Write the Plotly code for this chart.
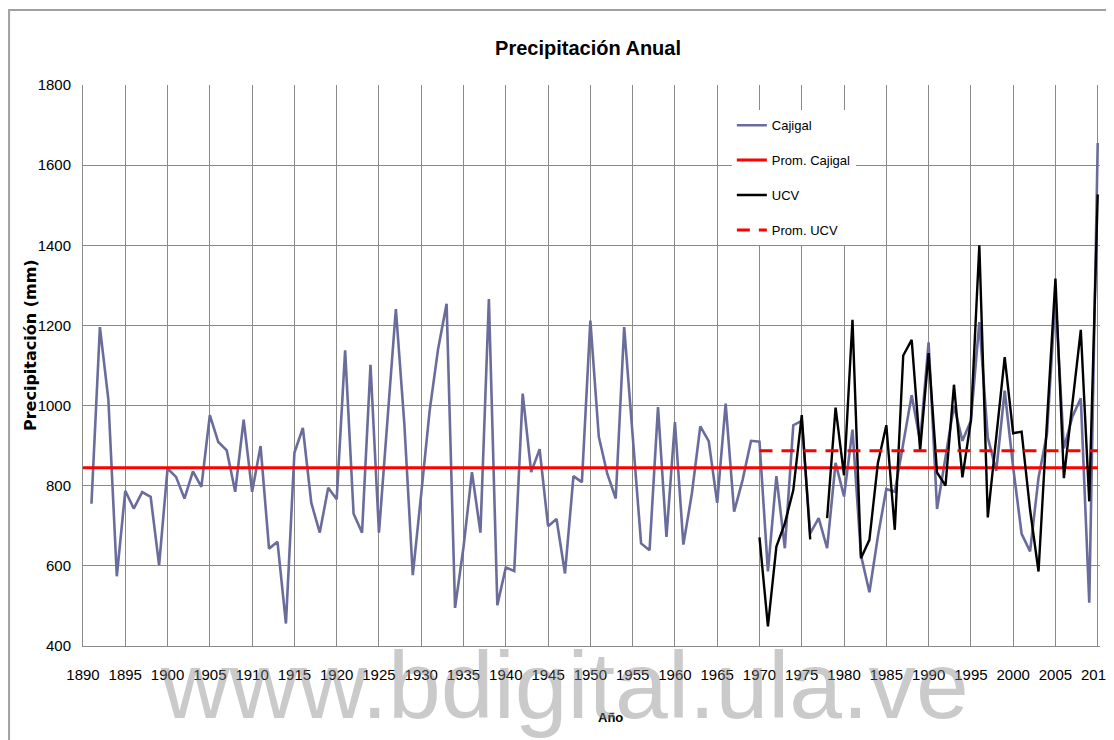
import plotly.graph_objects as go

# ---------------- data ----------------
years_cajigal = list(range(1891, 2011))
cajigal = [
    755, 1196, 1015, 574, 787, 743, 784, 772, 602, 843,      # 1891-1900
    822, 768, 836, 797, 976, 909, 888, 785, 965, 785,        # 1901-1910
    899, 643, 660, 456, 882, 944, 757, 683, 795, 766,        # 1911-1920
    1138, 730, 683, 1102, 683, 960, 1241, 955, 577, 780,     # 1921-1930
    988, 1142, 1254, 495, 647, 834, 683, 1266, 502, 596,     # 1931-1940
    587, 1030, 834, 891, 699, 717, 581, 824, 809, 1212,      # 1941-1950
    922, 830, 768, 1196, 922, 656, 639, 996, 672, 959,       # 1951-1960
    653, 780, 948, 911, 757, 1005, 735, 814, 912, 910,       # 1961-1970
    586, 824, 644, 951, 962, 681, 719, 644, 857, 773,        # 1971-1980
    940, 627, 534, 673, 792, 785, 905, 1026, 910, 1158,      # 1981-1990
    742, 870, 1000, 912, 962, 1208, 920, 837, 1037, 846,     # 1991-2000
    680, 636, 820, 930, 1270, 893, 972, 1018, 508, 1655,     # 2001-2010
]

years_ucv = list(range(1970, 2011))
ucv = [
    671, 449, 648, 706, 789, 976, 666, None, 719, 995,       # 1970-1979
    826, 1214, 619, 665, 856, 951, 690, 1125, 1164, 889,     # 1980-1989
    1131, 833, 800, 1052, 821, 962, 1400, 721, 921, 1121,    # 1990-1999
    931, 935, 740, 586, 960, 1317, 819, 1000, 1189, 761,     # 2000-2009
    1527,                                                    # 2010
]

prom_cajigal_years = [1890, 2010]
prom_cajigal = [845, 845]
prom_ucv_years = [1970, 2010]
prom_ucv = [887, 887]

x_ticks = list(range(1890, 2011, 5))
y_ticks = list(range(400, 1801, 200))

# ---------------- figure ----------------
FONT = "Liberation Sans Narrow, Arial Narrow, Liberation Sans, Arial, sans-serif"

fig = go.Figure()
fig.add_trace(go.Scatter(x=years_cajigal, y=cajigal, mode="lines", name="Cajigal",
                         legendgroup="a", line=dict(color="#6a6c9c", width=2.6)))
fig.add_trace(go.Scatter(x=prom_cajigal_years, y=prom_cajigal, mode="lines", name="Prom. Cajigal",
                         legendgroup="b", line=dict(color="#ff0000", width=3)))
fig.add_trace(go.Scatter(x=years_ucv, y=ucv, mode="lines", name="UCV",
                         legendgroup="c", line=dict(color="#000000", width=2.4),
                         connectgaps=False))
fig.add_trace(go.Scatter(x=prom_ucv_years, y=prom_ucv, mode="lines", name="Prom. UCV",
                         legendgroup="d", line=dict(color="#ff0000", width=3, dash="13px,9px")))

fig.update_layout(
    width=1106, height=732,
    margin=dict(l=75, r=0, t=77, b=94),
    paper_bgcolor="white", plot_bgcolor="white",
    title=dict(text="<b>Precipitación Anual</b>", x=0.4966, xref="paper",
               y=1 - 40 / 732, yref="container", xanchor="center", yanchor="middle",
               font=dict(family=FONT, size=20, color="black")),
    showlegend=True,
    legend=dict(x=0.638, y=0.955, xanchor="left", yanchor="top",
                bgcolor="white", borderwidth=0, traceorder="grouped",
                tracegroupgap=15,
                font=dict(family=FONT, size=13, color="black")),
    xaxis=dict(range=[1890, 2010.27], tickmode="array", tickvals=x_ticks,
               ticktext=[str(v) for v in x_ticks],
               showgrid=True, gridcolor="#8a8a8a", gridwidth=1,
               showline=True, linecolor="#8a8a8a", linewidth=1,
               ticks="", ticklabelstandoff=15, ticklabeloverflow="allow",
               zeroline=False,
               tickfont=dict(family=FONT, size=15, color="black")),
    yaxis=dict(range=[400, 1800], tickmode="array", tickvals=y_ticks,
               showgrid=True, gridcolor="#8a8a8a", gridwidth=1,
               showline=True, linecolor="#8a8a8a", linewidth=1,
               ticks="", ticklabelstandoff=8, zeroline=False,
               tickfont=dict(family=FONT, size=15, color="black")),
)

# chart border (outer frame, only top and left visible in crop)
fig.add_shape(type="rect", xref="paper", yref="paper",
              x0=-0.0727, x1=1.2, y0=-0.3, y1=1.1337,
              line=dict(color="#a0a0a0", width=2), fillcolor="rgba(0,0,0,0)", layer="below")

fig.add_annotation(text="<b>Precipitación (mm)</b>", xref="paper", yref="paper",
                   x=-0.0514, y=0.536, textangle=-90, showarrow=False,
                   xanchor="center", yanchor="middle",
                   font=dict(family="DejaVu Sans", size=16, color="black"))
fig.add_annotation(text="<b>Año</b>", xref="paper", yref="paper",
                   x=0.519, y=-0.128, showarrow=False,
                   xanchor="center", yanchor="middle",
                   font=dict(family=FONT, size=13, color="black"))
fig.add_annotation(text="www.bdigital.ula.ve", xref="paper", yref="paper",
                   x=0.4738, y=-0.0695, showarrow=False,
                   xanchor="center", yanchor="middle",
                   font=dict(family="Liberation Sans, Arial, sans-serif", size=95,
                             color="rgba(128,128,128,0.42)"))

fig.write_html("out.html")
